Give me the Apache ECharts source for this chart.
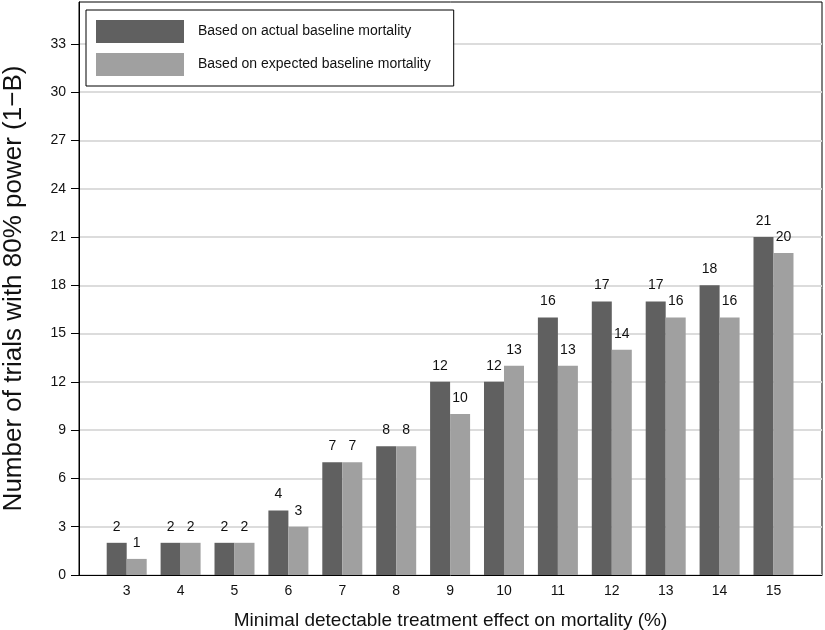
<!DOCTYPE html>
<html>
<head>
<meta charset="utf-8">
<script src="https://cdn.jsdelivr.net/npm/echarts@6/dist/echarts.min.js"></script>
<style>html,body{margin:0;padding:0;background:#fff}#c{width:825px;height:630px}</style>
</head>
<body>
<div id="c"></div>
<script>
const categories = [3, 4, 5, 6, 7, 8, 9, 10, 11, 12, 13, 14, 15];
const actualValues = [2, 2, 2, 4, 7, 8, 12, 12, 16, 17, 17, 18, 21];
const expectedValues = [1, 2, 2, 3, 7, 8, 10, 13, 13, 14, 16, 16, 20];
const yTicks = [0, 3, 6, 9, 12, 15, 18, 21, 24, 27, 30, 33];
const seriesNames = ['Based on actual baseline mortality', 'Based on expected baseline mortality'];

const FONT = 'Liberation Sans, Arial, Helvetica, sans-serif';
const chart = echarts.init(document.getElementById('c'), null, {renderer: 'canvas'});

const labelCfg = {show: true, position: 'top', distance: 9, color: '#111', fontSize: 14, fontFamily: FONT};

chart.setOption({
  animation: false,
  backgroundColor: '#fff',
  textStyle: {fontFamily: FONT},
  grid: {left: 79, right: 3, top: 2, bottom: 55, show: true, borderColor: '#000', borderWidth: 1, containLabel: false, outerBoundsMode: 'none'},
  legend: {
    orient: 'vertical', left: 86, top: 10,
    padding: [10, 23, 10, 10],
    borderColor: '#000', borderWidth: 1, backgroundColor: '#fff',
    itemWidth: 88, itemHeight: 23, itemGap: 10,
    icon: 'rect',
    textStyle: {fontSize: 14, color: '#111', fontFamily: FONT, padding: [0, 0, 0, 9]},
    data: seriesNames
  },
  xAxis: {
    type: 'value', min: 2.115, max: 15.9,
    name: 'Minimal detectable treatment effect on mortality (%)',
    nameLocation: 'middle', nameGap: 36,
    nameTextStyle: {fontSize: 19, color: '#111', fontFamily: FONT},
    axisLine: {show: true, onZero: false, lineStyle: {color: '#000', width: 1}},
    axisTick: {show: false},
    splitLine: {show: false},
    axisLabel: {customValues: categories, fontSize: 14, color: '#111', margin: 9, fontFamily: FONT}
  },
  yAxis: {
    type: 'value', min: 0, max: 35.6, interval: 3,
    name: 'Number of trials with 80% power (1\u2212B)',
    nameLocation: 'middle', nameGap: 52,
    nameTextStyle: {fontSize: 26, color: '#111', fontFamily: FONT},
    axisLine: {show: true, lineStyle: {color: '#000', width: 1}},
    axisTick: {show: true, customValues: yTicks, length: 8, lineStyle: {color: '#000'}},
    axisLabel: {customValues: yTicks, fontSize: 14, color: '#111', margin: 13, fontFamily: FONT},
    splitLine: {show: true, lineStyle: {color: '#dcdcdc', width: 2}}
  },
  series: [
    {
      name: seriesNames[0], type: 'bar', barWidth: 20, barGap: '0%',
      itemStyle: {color: '#606060'},
      label: labelCfg,
      data: categories.map((c, i) => [c, actualValues[i]])
    },
    {
      name: seriesNames[1], type: 'bar', barWidth: 20, barGap: '0%',
      itemStyle: {color: '#a0a0a0'},
      label: labelCfg,
      data: categories.map((c, i) => [c, expectedValues[i]])
    }
  ]
});
</script>
</body>
</html>
